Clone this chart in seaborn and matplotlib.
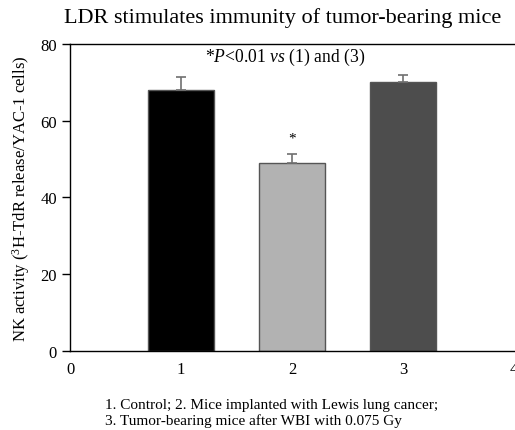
import matplotlib
matplotlib.use("Agg")
import matplotlib.pyplot as plt
import seaborn as sns
import pandas as pd
import numpy as np

# data
groups = [1, 2, 3]
nk_activity = [68, 49, 70]
nk_err = [3.3, 2.3, 2.0]
bar_colors = ["#000000", "#b2b2b2", "#4d4d4d"]

df = pd.DataFrame({"group": groups, "nk": nk_activity})

sns.set_style("white")
plt.rcParams["font.family"] = ["Liberation Serif", "DejaVu Serif"]
plt.rcParams["mathtext.fontset"] = "custom"
plt.rcParams["mathtext.rm"] = "Liberation Serif"
plt.rcParams["mathtext.it"] = "Liberation Serif:italic"
plt.rcParams["text.color"] = "black"
plt.rcParams["axes.labelcolor"] = "black"
plt.rcParams["xtick.color"] = "black"
plt.rcParams["ytick.color"] = "black"

fig = plt.figure(figsize=(5.15, 4.31), dpi=100)
ax = fig.add_axes([0.136, 0.183, 0.862, 0.713])

sns.barplot(data=df, x="group", y="nk", hue="group", palette=bar_colors,
            native_scale=True, width=0.6, legend=False, edgecolor="#555555",
            linewidth=1, errorbar=None, ax=ax)
ax.errorbar(groups, nk_activity, yerr=[np.zeros(3), nk_err], fmt="none",
            ecolor="#707070", elinewidth=1.2, capsize=3.6, capthick=1.2)

ax.set_xlim(0, 4)
ax.set_ylim(0, 80)
ax.set_xticks([0, 1, 2, 3, 4])
ax.set_yticks([0, 20, 40, 60, 80])
ax.tick_params(axis="y", direction="out", length=6, width=1, left=True, labelsize=12)
ax.tick_params(axis="x", length=0, labelsize=12, pad=7)

for s in ["top", "bottom", "left"]:
    ax.spines[s].set_color("black")
    ax.spines[s].set_linewidth(1)
ax.spines["right"].set_visible(False)

ax.set_xlabel("")
ax.set_ylabel("NK activity ($^3$H-TdR release/YAC-1 cells)", fontsize=12, labelpad=6)
fig.text(0.548, 0.958, "LDR stimulates immunity of tumor-bearing mice", fontsize=16,
         ha="center", va="center")

ax.text(1.94, 76.6, "*$P$<0.01 $vs$ (1) and (3)", ha="center", va="center", fontsize=12.7)
ax.text(2.0, 55.5, "*", ha="center", va="center", fontsize=11)

fig.text(0.204, 0.060, "1. Control; 2. Mice implanted with Lewis lung cancer;", fontsize=11, va="center")
fig.text(0.204, 0.023, "3. Tumor-bearing mice after WBI with 0.075 Gy", fontsize=11, va="center")

fig.savefig("out.png", dpi=100)
